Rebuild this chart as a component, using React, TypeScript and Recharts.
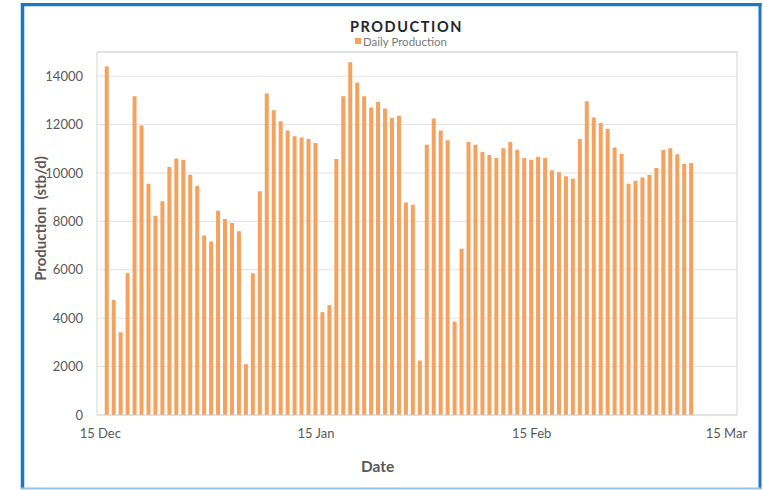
import React from "react";
import { BarChart, Bar, XAxis, YAxis, CartesianGrid } from "recharts";

// Daily production (stb/d), one value per day starting 16 Dec
const production: number[] = [
  14400, 4750, 3420, 5860, 13170, 11960, 9560, 8230, 8830, 10250,
  10600, 10550, 9930, 9470, 7420, 7170, 8440, 8100, 7930, 7590,
  2100, 5860, 9250, 13280, 12590, 12140, 11760, 11520, 11470, 11400,
  11240, 4250, 4540, 10580, 13170, 14580, 13740, 13170, 12710, 12940,
  12670, 12270, 12370, 8780, 8690, 2250, 11170, 12250, 11760, 11350,
  3860, 6870, 11280, 11170, 10870, 10740, 10620, 11020, 11280, 10960,
  10620, 10550, 10670, 10620, 10110, 10030, 9870, 9760, 11400, 12960,
  12290, 12070, 11820, 11050, 10800, 9560, 9680, 9810, 9930, 10210,
  10950, 11020, 10770, 10370, 10410,
];
// day offset (days after 15 Dec) of the first value
const FIRST_DAY = 1;

const xTickDays: number[] = [0, 31, 62, 90];
const xTickLabels: string[] = ["15 Dec", "15 Jan", "15 Feb", "15 Mar"];
const yTicks: number[] = [0, 2000, 4000, 6000, 8000, 10000, 12000, 14000];

const data = production.map((v, i) => ({ day: FIRST_DAY + i, production: v }));

const FONT = "Lato, 'Open Sans', sans-serif";
const BAR_COLOR = "#F4A25E";
const TEXT = "#595959";

export default function App() {
  return (
    <div style={{ position: "absolute", left: 0, top: 0, width: 764, height: 490, background: "#fff", fontFamily: FONT }}>
      <BarChart
        width={764}
        height={490}
        data={data}
        margin={{ top: 52, right: 27, bottom: 45, left: 0 }}
      >
        <CartesianGrid vertical={false} stroke="#e2e2e2" />
        <XAxis
          dataKey="day"
          type="number"
          domain={[-0.47, 91.52]}
          ticks={xTickDays}
          tickFormatter={(d: number) => xTickLabels[xTickDays.indexOf(d)] ?? ""}
          allowDataOverflow
          height={30}
          axisLine={false}
          tickLine={false}
          tickSize={0}
          tickMargin={14}
          tick={{ fill: TEXT, fontSize: 13, fontFamily: FONT }}
          interval={0}
        />
        <YAxis
          type="number"
          domain={[0, 15000]}
          ticks={yTicks}
          width={97}
          axisLine={false}
          tickLine={false}
          tickSize={0}
          tickMargin={14}
          tick={{ fill: TEXT, fontSize: 13, fontFamily: FONT }}
          interval={0}
        />
        <Bar dataKey="production" name="Daily Production" fill={BAR_COLOR} barSize={4} isAnimationActive={false} />
      </BarChart>
      <svg
        width={764}
        height={490}
        style={{ position: "absolute", left: 0, top: 0, pointerEvents: "none" }}
      >
        {/* plot area border */}
        <rect x={97} y={52} width={640} height={363} fill="none" stroke="#d3d3d3" strokeWidth={1} />
        {/* outer frame */}
        <line x1={22.5} y1={3} x2={22.5} y2={489} stroke="#1b78c3" strokeWidth={3.5} />
        <line x1={21} y1={4.7} x2={761.5} y2={4.7} stroke="#1b78c3" strokeWidth={3.3} />
        <line x1={760} y1={3} x2={760} y2={489} stroke="#1b78c3" strokeWidth={3} />
        <line x1={21} y1={488.5} x2={761.5} y2={488.5} stroke="#8fc6ea" strokeWidth={2} />
        {/* title */}
        <text x={406.5} y={31.7} textAnchor="middle" fontFamily={FONT} fontWeight={700} fontSize={14.5} letterSpacing={1.6} fill="#262626">
          PRODUCTION
        </text>
        {/* legend */}
        <rect x={355} y={38} width={6} height={6} fill={BAR_COLOR} />
        <text x={363} y={46.3} fontFamily={FONT} fontSize={11.5} fill="#7a7a7a">
          Daily Production
        </text>
        {/* y axis title */}
        <text
          transform="translate(45.5,218.5) rotate(-90)"
          textAnchor="middle"
          fontFamily={FONT}
          fontWeight={700}
          fontSize={15}
          fill={TEXT}
          style={{ whiteSpace: "pre" }}
        >
          {"Production  (stb/d)"}
        </text>
        {/* x axis title */}
        <text x={377.6} y={471.7} textAnchor="middle" fontFamily={FONT} fontWeight={700} fontSize={15.5} fill={TEXT}>
          Date
        </text>
      </svg>
    </div>
  );
}
